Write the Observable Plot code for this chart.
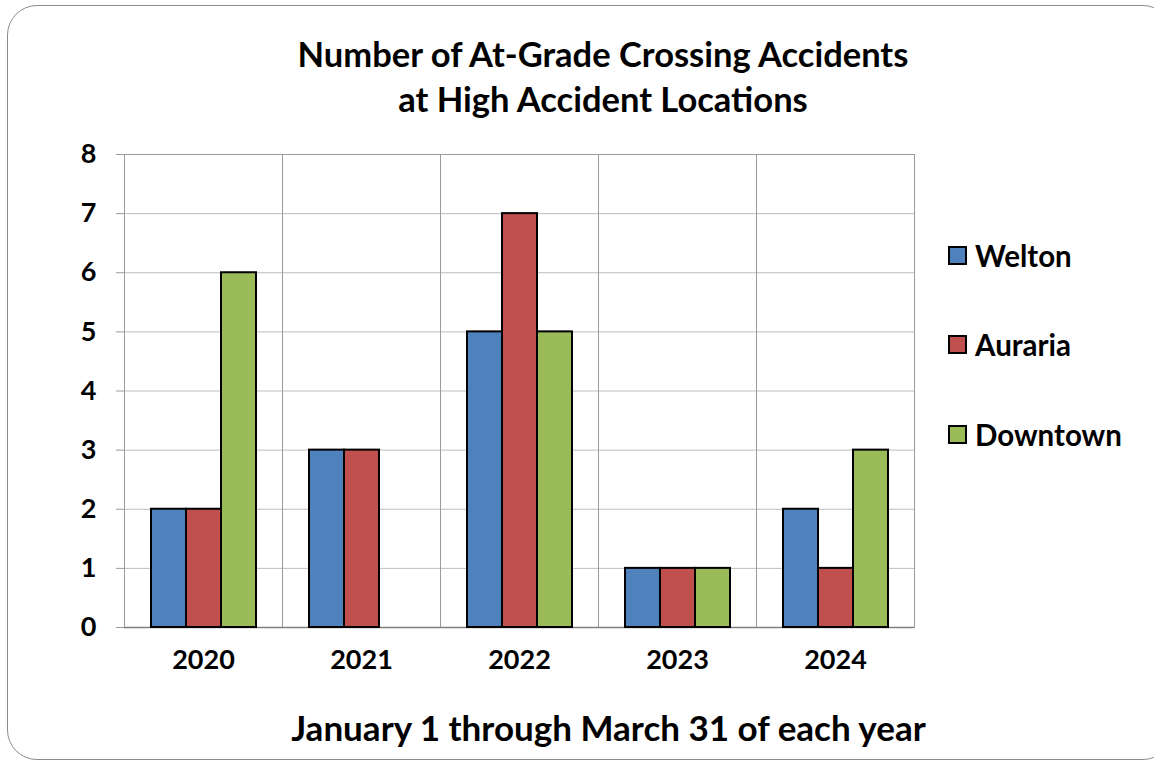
<!DOCTYPE html>
<html><head><meta charset="utf-8">
<script src="https://cdn.jsdelivr.net/npm/d3@7"></script>
<script src="https://cdn.jsdelivr.net/npm/@observablehq/plot@0.6"></script>
<style>
body{margin:0;background:#fff;font-family:Lato,"Open Sans",sans-serif;font-weight:bold;color:#000}
#wrap{position:relative;width:1154px;height:761px;overflow:hidden;background:#fff}
#frame{position:absolute;left:7px;top:5px;width:1166px;height:755px;border:1.5px solid #8c8c8c;border-radius:30px;box-sizing:border-box}
#title{position:absolute;left:0;top:31px;width:1206px;text-align:center;font-size:34.5px;line-height:45px}
#chart{position:absolute;left:0;top:140px}
#legend{position:absolute;left:948px;top:0}
.item{position:absolute;left:0;display:flex;align-items:center;white-space:nowrap;font-size:29.5px}
.sw{width:19px;height:19px;border:2px solid #000;box-sizing:border-box;margin-right:8px}
#caption{position:absolute;left:0;top:707px;width:1217px;text-align:center;font-size:35px;line-height:40px}
</style></head>
<body>
<div id="wrap">
  <div id="frame"></div>
  <div id="title">Number of At-Grade Crossing Accidents<br>at High Accident Locations</div>
  <div id="chart"></div>
  <div id="legend"></div>
  <div id="caption">January 1 through March 31 of each year</div>
</div>
<script>
const years = ["2020", "2021", "2022", "2023", "2024"];
const series = ["Welton", "Auraria", "Downtown"];
const colors = ["#4F81BD", "#C0504D", "#9BBB59"];
const welton = [2, 3, 5, 1, 2];
const auraria = [2, 3, 7, 1, 1];
const downtown = [6, 0, 5, 1, 3];
const yTicks = [0, 1, 2, 3, 4, 5, 6, 7, 8];

const values = [welton, auraria, downtown];
const data = years.flatMap((yr, i) => series.map((s, j) => ({year: yr, series: s, value: values[j][i]})));

const chart = Plot.plot({
  width: 960,
  height: 545,
  marginTop: 14,
  marginLeft: 123,
  marginRight: 45,
  marginBottom: 58,
  style: {background: "transparent", fontFamily: "Lato, 'Open Sans', sans-serif", fontWeight: "bold", fontSize: "27px", color: "#000", overflow: "visible"},
  fx: {domain: years, padding: 0, label: null, axis: null},
  x: {domain: series, paddingInner: 0, paddingOuter: 0.75, axis: null},
  y: {domain: [0, 8], label: null, axis: null},
  color: {domain: series, range: colors},
  marks: [
    Plot.gridY(yTicks, {stroke: "#bdbdbd", strokeOpacity: 1}),
    Plot.frame({stroke: "#9a9a9a"}),
    Plot.axisY(yTicks, {tickSize: 8, tickPadding: 20, stroke: "#9a9a9a", label: null, fontSize: 27, tickFormat: d => String(d)}),
    Plot.axisFx({anchor: "bottom", tickSize: 0, tickPadding: 22, label: null, fontSize: 27}),
    Plot.ruleY([0], {stroke: "#7f7f7f", strokeWidth: 1.5}),
    Plot.barY(data, {fx: "year", x: "series", y: "value", fill: "series", stroke: "#000", strokeWidth: 2, filter: d => d.value > 0})
  ]
});
document.getElementById("chart").appendChild(chart);

const legend = document.getElementById("legend");
const rowTops = [255, 344, 434];
series.forEach((s, i) => {
  const it = document.createElement("div");
  it.className = "item";
  it.style.top = (rowTops[i] - 18) + "px";
  it.style.height = "36px";
  const sw = document.createElement("div");
  sw.className = "sw";
  sw.style.background = colors[i];
  const t = document.createElement("span");
  t.textContent = s;
  it.appendChild(sw);
  it.appendChild(t);
  legend.appendChild(it);
});
</script>
</body></html>
